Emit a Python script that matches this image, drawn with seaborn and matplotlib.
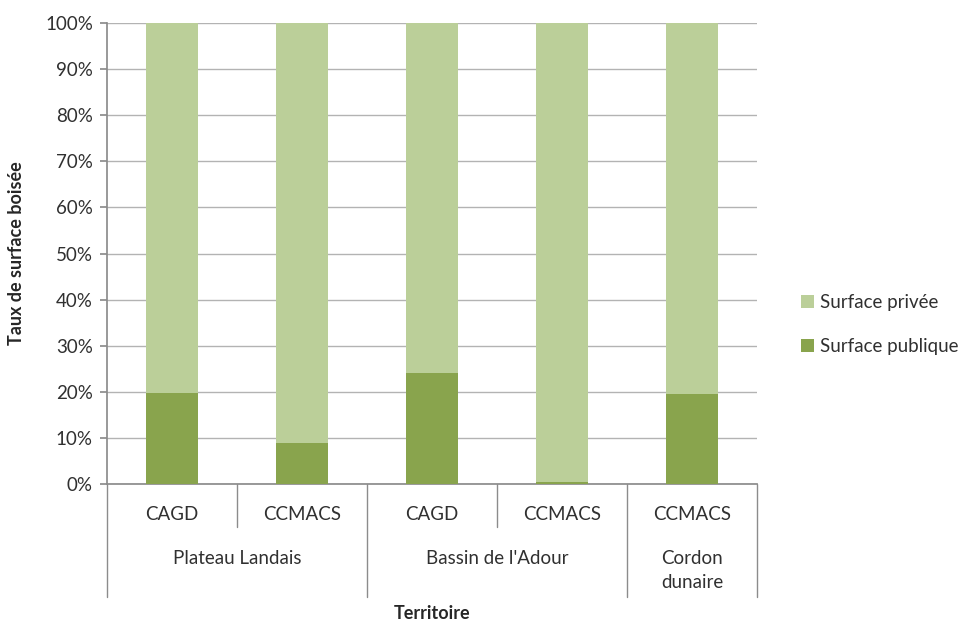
import matplotlib
matplotlib.use("Agg")
import matplotlib.pyplot as plt
import seaborn as sns
import pandas as pd
import numpy as np
from matplotlib.ticker import PercentFormatter

sub_labels = ["CAGD", "CCMACS", "CAGD", "CCMACS", "CCMACS"]
group_labels = ["Plateau Landais", "Bassin de l'Adour", "Cordon\ndunaire"]
group_sizes = [2, 2, 1]
publique = [19.7, 9.0, 24.0, 0.4, 19.5]
privee = [80.3, 91.0, 76.0, 99.6, 80.5]

sns.set_theme(style="white")
plt.rcParams['font.family'] = ['Lato', 'DejaVu Sans']

FS = 13.5
c_pub = "#89A44D"
c_priv = "#BBCF99"

x_ids = [f"b{i}" for i in range(len(sub_labels))]
df = pd.DataFrame({"id": x_ids, "publique": publique, "privee": privee})
df["total"] = df["publique"] + df["privee"]

fig = plt.figure(figsize=(9.62, 6.23), dpi=100)
ax = fig.add_axes([0.111, 0.223, 0.676, 0.740])

sns.barplot(data=df, x="id", y="total", color=c_priv, width=0.4, ax=ax,
            saturation=1, label="Surface privée", zorder=3, linewidth=0,
            edgecolor="none")
sns.barplot(data=df, x="id", y="publique", color=c_pub, width=0.4, ax=ax,
            saturation=1, label="Surface publique", zorder=3, linewidth=0,
            edgecolor="none")
if ax.get_legend() is not None:
    ax.get_legend().remove()

ax.set_ylim(0, 100)
ax.set_xlim(-0.5, len(sub_labels) - 0.5)
ax.set_yticks(np.arange(0, 101, 10))
ax.yaxis.set_major_formatter(PercentFormatter(decimals=0))
ax.grid(axis="y", color="#B3B3B3", linewidth=1, zorder=0)
ax.set_axisbelow(True)
for s in ["top", "right"]:
    ax.spines[s].set_visible(False)
ax.spines["left"].set_color("#8C8C8C")
ax.spines["bottom"].set_color("#8C8C8C")
ax.tick_params(axis="y", left=True, length=5, color="#8C8C8C", labelsize=FS,
               labelcolor="#303030", pad=5)
ax.set_xticks([])
ax.set_xlabel("")
ax.set_ylabel("Taux de surface boisée", fontsize=13, fontweight="bold")
ax.yaxis.set_label_coords(-0.125, 0.5)

# Category axis (two levels)
trans = ax.get_xaxis_transform()
line_kw = dict(color="#8C8C8C", linewidth=1, transform=trans, clip_on=False)
for i, lab in enumerate(sub_labels):
    ax.text(i, -0.067, lab, transform=trans, ha="center", va="center",
            fontsize=FS, color="#303030")
edges = np.cumsum([0] + group_sizes) - 0.5
for e in edges:
    ax.plot([e, e], [0, -0.245], **line_kw)
start = 0
for g, n in zip(group_labels, group_sizes):
    for k in range(1, n):
        b = start + k - 0.5
        ax.plot([b, b], [0, -0.093], **line_kw)
    center = start + (n - 1) / 2
    ax.text(center, -0.142, g, transform=trans, ha="center", va="top",
            fontsize=FS, color="#303030", linespacing=1.55)
    start += n

fig.text(0.449, 0.0145, "Territoire", ha="center", va="center",
         fontsize=13, fontweight="bold")

handles, labels = ax.get_legend_handles_labels()
leg = fig.legend(handles, labels, loc="center left", bbox_to_anchor=(0.815, 0.479),
                 frameon=False, fontsize=FS, handlelength=0.7, handleheight=0.7,
                 labelspacing=1.45, handletextpad=0.3)
for t in leg.get_texts():
    t.set_color("#303030")

fig.savefig("out.png", dpi=100)
